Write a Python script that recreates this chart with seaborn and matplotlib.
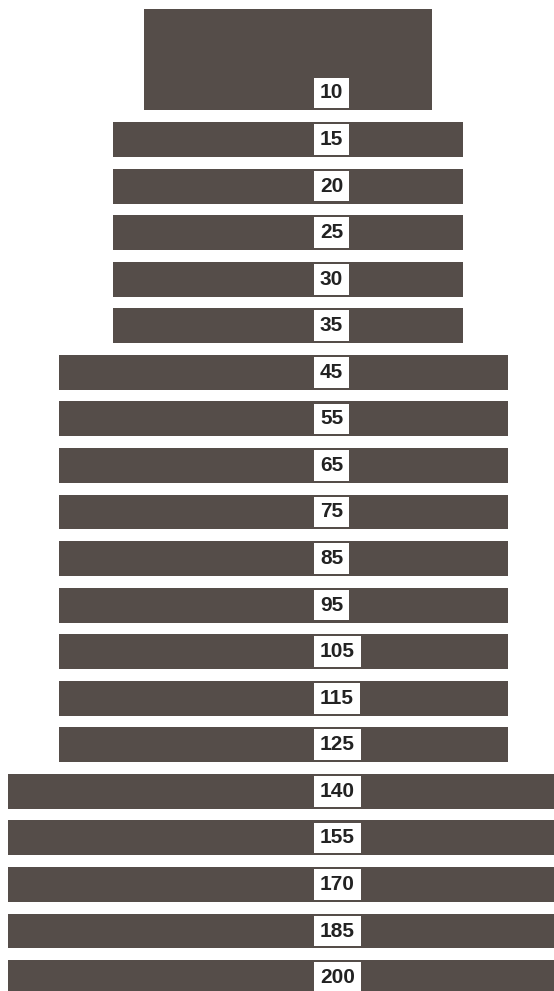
import matplotlib
matplotlib.use("Agg")
import matplotlib.pyplot as plt
import seaborn as sns
import pandas as pd

# data
labels = ["10", "15", "20", "25", "30", "35", "45", "55", "65", "75",
          "85", "95", "105", "115", "125", "140", "155", "170", "185", "200"]
starts = [144, 113, 113, 113, 113, 113, 59, 59, 59, 59,
          59, 59, 59, 59, 59, 8, 8, 8, 8, 8]
ends = [432, 463, 463, 463, 463, 463, 508, 508, 508, 508,
        508, 508, 508, 508, 508, 568, 568, 568, 568, 568]

df = pd.DataFrame({"label": labels, "start": starts, "end": ends})
df["width"] = df["end"] - df["start"]

sns.set_theme(style="white")
plt.rcParams["font.family"] = ["Liberation Sans", "DejaVu Sans"]

fig = plt.figure(figsize=(5.54, 9.91), dpi=100)
ax = fig.add_axes([0, 0, 1, 1])

BAR_COLOR = "#554d49"
sns.barplot(data=df, y="label", x="width", orient="h", color=BAR_COLOR,
            width=0.75, saturation=1, ax=ax, order=labels)

# shift bars so they begin at their start value
for patch, s in zip(ax.patches, df["start"]):
    patch.set_x(s)
    patch.set_edgecolor("none")

# first bar is taller, extending upward (bottom aligned)
first = ax.patches[0]
bottom = first.get_y() + first.get_height()
first.set_y(bottom - 2.17)
first.set_height(2.17)

for i, lab in enumerate(labels):
    ax.text(320, i, lab, ha="left", va="center", fontsize=15,
            fontweight="bold", color="#222222",
            bbox=dict(boxstyle="square,pad=0.28", fc="white", ec="none"))

ax.set_xlim(0, 554)
ax.set_ylim(19.288, -1.996)
ax.axis("off")

fig.savefig("out.png", dpi=100)
